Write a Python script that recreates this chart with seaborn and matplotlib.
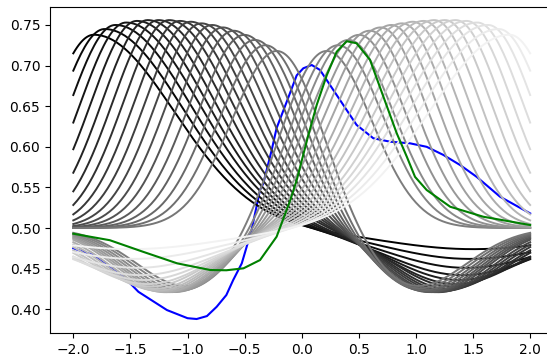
import numpy as np
import pandas as pd
import matplotlib
matplotlib.use("Agg")
import matplotlib.pyplot as plt
import seaborn as sns

# ---------------- data ----------------
blue_x = [-2.0, -1.83, -1.53, -1.43, -1.18, -1.0, -0.92, -0.83, -0.745, -0.66, -0.60,
          -0.525, -0.44, -0.365, -0.336, -0.263, -0.22, -0.131, -0.044, 0.014, 0.088,
          0.16, 0.248, 0.364, 0.48, 0.627, 0.773, 0.948, 1.094, 1.24, 1.386, 1.532,
          1.736, 2.0]
blue_y = [0.475, 0.467, 0.436, 0.4215, 0.399, 0.389, 0.388, 0.3916, 0.403, 0.4175, 0.436,
          0.4565, 0.497, 0.547, 0.555, 0.596, 0.623, 0.6556, 0.688, 0.6967, 0.7007,
          0.6946, 0.676, 0.6515, 0.627, 0.6105, 0.6063, 0.6043, 0.600, 0.590, 0.5776, 0.563,
          0.5386, 0.518]

green_x = [-2.0, -1.68, -1.39, -1.09, -0.80, -0.66, -0.51, -0.365, -0.22, -0.10, -0.044,
           0.058, 0.131, 0.219, 0.306, 0.394, 0.48, 0.598, 0.715, 0.832, 0.92, 0.992,
           1.094, 1.3, 1.59, 2.0]
green_y = [0.493, 0.485, 0.4708, 0.4565, 0.4483, 0.448, 0.4504, 0.4606, 0.4893, 0.5345, 0.559,
           0.6145, 0.6515, 0.688, 0.717, 0.730, 0.7275, 0.707, 0.6617, 0.6166, 0.5878, 0.563,
           0.5468, 0.5262, 0.5139, 0.5037]

# gray family (one entry per curve): peak position / height, flank widths,
# trough position / value / width
peak_x = [-1.82, -1.726, -1.632, -1.538, -1.444, -1.349, -1.255, -1.161, -1.067, -0.973,
          -0.879, -0.785, -0.691, -0.596, -0.502, -0.408, -0.314, -0.21,
          0.21, 0.314, 0.408, 0.502, 0.596, 0.691, 0.785, 0.879, 0.973, 1.067,
          1.161, 1.255, 1.349, 1.444, 1.538, 1.632, 1.726, 1.82]
peak_y = [0.738, 0.745, 0.75, 0.753, 0.755, 0.756, 0.756, 0.756, 0.755, 0.754,
          0.752, 0.75, 0.747, 0.743, 0.738, 0.732, 0.726, 0.72,
          0.72, 0.726, 0.732, 0.738, 0.743, 0.747, 0.75, 0.752, 0.754, 0.755,
          0.756, 0.756, 0.756, 0.755, 0.753, 0.75, 0.745, 0.738]
outer_w = [0.4] * 36
inner_w = [0.70, 0.68, 0.66, 0.64, 0.615, 0.59, 0.57, 0.55, 0.53, 0.51,
           0.49, 0.475, 0.46, 0.445, 0.43, 0.415, 0.40, 0.39,
           0.39, 0.40, 0.415, 0.43, 0.445, 0.46, 0.475, 0.49, 0.51, 0.53,
           0.55, 0.57, 0.59, 0.615, 0.64, 0.66, 0.68, 0.70]
trough_x = [1.5, 1.47, 1.44, 1.41, 1.38, 1.35, 1.32, 1.29, 1.26, 1.23,
            1.2, 1.17, 1.14, 1.11, 1.08, 1.05, 1.02, 0.99,
            -0.99, -1.02, -1.05, -1.08, -1.11, -1.14, -1.17, -1.2, -1.23, -1.26,
            -1.29, -1.32, -1.35, -1.38, -1.41, -1.44, -1.47, -1.5]
trough_y = [0.474, 0.462, 0.451, 0.442, 0.436, 0.431, 0.428, 0.425, 0.423, 0.422,
            0.421, 0.421, 0.421, 0.421, 0.422, 0.423, 0.425, 0.427,
            0.427, 0.425, 0.423, 0.422, 0.421, 0.421, 0.421, 0.421, 0.422, 0.423,
            0.425, 0.428, 0.431, 0.436, 0.442, 0.451, 0.462, 0.474]
trough_w = [0.8, 0.75, 0.7, 0.65, 0.6, 0.56, 0.52, 0.5, 0.48, 0.47,
            0.46, 0.45, 0.45, 0.45, 0.45, 0.45, 0.45, 0.45,
            0.45, 0.45, 0.45, 0.45, 0.45, 0.45, 0.45, 0.46, 0.47, 0.48,
            0.5, 0.52, 0.56, 0.6, 0.65, 0.7, 0.75, 0.8]
baseline = 0.5

# ---------------- build table ----------------
xg = np.linspace(-2, 2, 241)
rows = []
for i in range(len(peak_x)):
    px, py = peak_x[i], peak_y[i]
    toward_zero = (xg - px) * np.sign(-px) > 0
    w = np.where(toward_zero, inner_w[i], outer_w[i])
    bump = (py - baseline) * np.exp(-(xg - px) ** 2 / (2 * w ** 2))
    dip = (baseline - trough_y[i]) * np.exp(-(xg - trough_x[i]) ** 2 / (2 * trough_w[i] ** 2))
    rows.append(pd.DataFrame({"x": xg, "y": baseline + bump - dip, "curve": i}))
gray_df = pd.concat(rows, ignore_index=True)
n = len(peak_x)
gray_colors = [str(v) for v in np.linspace(0.0, 0.95, n)]

blue_df = pd.DataFrame({"x": blue_x, "y": blue_y})
green_df = pd.DataFrame({"x": green_x, "y": green_y})

# ---------------- plot ----------------
fig = plt.figure(figsize=(5.47, 3.58), dpi=100)
ax = fig.add_axes([50 / 547, 1 - 333.3 / 358, 503 / 547, (333.3 - 6.7) / 358])

sns.lineplot(data=blue_df, x="x", y="y", color="blue", lw=1.5, ax=ax, zorder=1, sort=False)
sns.lineplot(data=gray_df, x="x", y="y", hue="curve", units="curve", estimator=None,
             palette=gray_colors, lw=1.4, legend=False, ax=ax, zorder=2, sort=False)
sns.lineplot(data=green_df, x="x", y="y", color="green", lw=1.5, ax=ax, zorder=3, sort=False)

ax.set_xlim(-2.204, 2.2)
ax.set_ylim(0.3704, 0.7725)
ax.set_xticks([-2.0, -1.5, -1.0, -0.5, 0.0, 0.5, 1.0, 1.5, 2.0])
ax.set_yticks([0.40, 0.45, 0.50, 0.55, 0.60, 0.65, 0.70, 0.75])
ax.set_xlabel("")
ax.set_ylabel("")
ax.tick_params(labelsize=10)

fig.savefig("out.png", dpi=100)
